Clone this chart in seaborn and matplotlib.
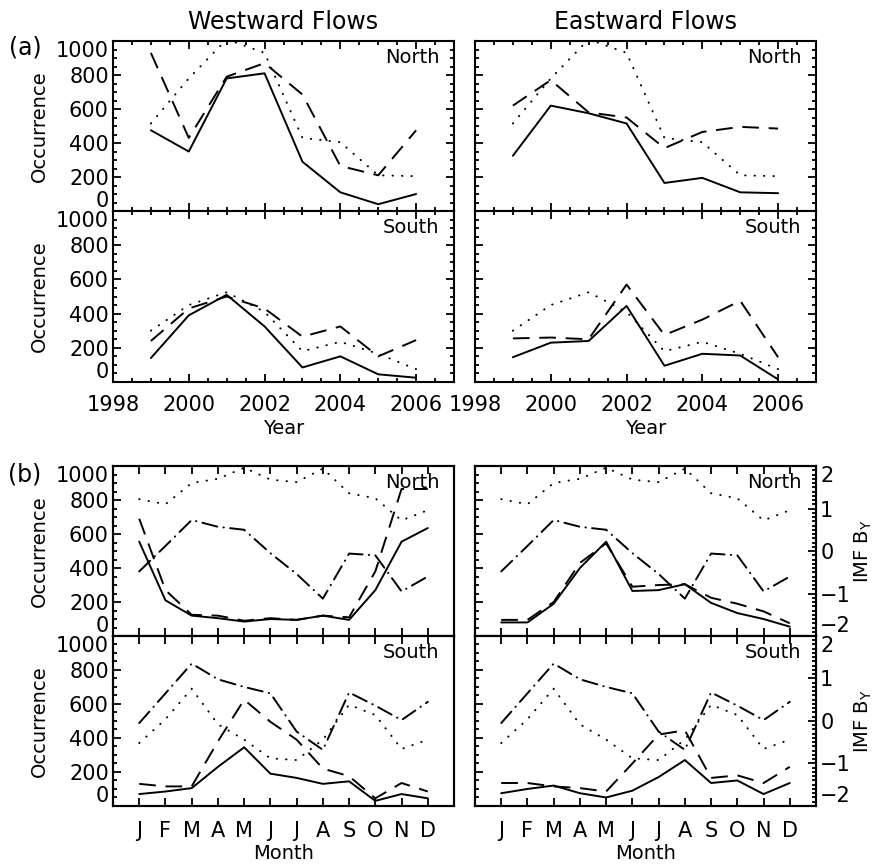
"""
Seasonal / solar-cycle occurrence of westward and eastward flows,
redrawn as a 2x2 + 2x2 panel figure.
"""

import numpy as np
import pandas as pd
import matplotlib
matplotlib.use("Agg")
import matplotlib.pyplot as plt
import seaborn as sns
from matplotlib.ticker import MultipleLocator, FixedLocator

# ---------------------------------------------------------------- data (a)
YEARS = [1999, 2000, 2001, 2002, 2003, 2004, 2005, 2006]

WEST_N_SOLID  = [475, 350, 780, 810, 290, 110, 40, 100]
WEST_N_DASHED = [930, 430, 790, 870, 685, 265, 210, 475]
EAST_N_SOLID  = [325, 620, 575, 515, 165, 195, 110, 105]
EAST_N_DASHED = [620, 770, 580, 550, 370, 465, 495, 485]
YEAR_N_DOTTED = [515, 780, 1010, 930, 430, 405, 210, 205]

WEST_S_SOLID  = [140, 390, 510, 325, 85, 150, 45, 25]
WEST_S_DASHED = [240, 430, 500, 430, 265, 325, 150, 245]
EAST_S_SOLID  = [145, 230, 240, 445, 95, 165, 155, 15]
EAST_S_DASHED = [255, 260, 250, 570, 275, 365, 475, 145]
YEAR_S_DOTTED = [300, 450, 525, 410, 180, 235, 165, 75]

# ---------------------------------------------------------------- data (b)
MONTHS = [1, 2, 3, 4, 5, 6, 7, 8, 9, 10, 11, 12]
MONTH_LABELS = ["J", "F", "M", "A", "M", "J", "J", "A", "S", "O", "N", "D"]

M_WEST_N_SOLID  = [555, 210, 120, 105, 85, 100, 95, 120, 95, 270, 555, 635]
M_WEST_N_DASHED = [690, 270, 125, 120, 90, 105, 95, 120, 110, 380, 865, 865]
M_EAST_N_SOLID  = [80, 80, 190, 400, 555, 265, 270, 305, 195, 135, 100, 55]
M_EAST_N_DASHED = [95, 95, 200, 430, 545, 290, 300, 305, 225, 190, 145, 75]
M_N_DOTTED      = [805, 775, 900, 925, 990, 920, 905, 985, 840, 810, 680, 740]
BY_N            = [-0.48, 0.12, 0.73, 0.57, 0.50, -0.05, -0.54, -1.12,
                   -0.06, -0.10, -0.95, -0.60]

M_WEST_S_SOLID  = [70, 85, 105, 230, 345, 190, 165, 130, 145, 30, 70, 45]
M_WEST_S_DASHED = [130, 115, 115, 380, 625, 495, 390, 220, 175, 45, 135, 85]
M_EAST_S_SOLID  = [75, 100, 120, 75, 50, 90, 170, 270, 135, 150, 70, 135]
M_EAST_S_DASHED = [135, 135, 115, 105, 85, 250, 420, 445, 165, 180, 135, 230]
M_S_DOTTED      = [370, 510, 690, 480, 390, 280, 270, 390, 595, 535, 335, 390]
BY_S            = [-0.05, 0.65, 1.35, 0.98, 0.80, 0.65, -0.25, -0.68,
                   0.67, 0.36, 0.02, 0.45]

# ---------------------------------------------------------------- style
sns.set_style("ticks")
plt.rcParams["font.family"] = ["DejaVu Sans"]
plt.rcParams["lines.scale_dashes"] = False
plt.rcParams["axes.linewidth"] = 1.5
for key in ["text.color", "axes.labelcolor", "xtick.color", "ytick.color",
            "axes.edgecolor"]:
    plt.rcParams[key] = "black"

FS = 14      # axis labels, North/South
TFS = 15     # tick labels
DASHES = {
    "solid":   None,
    "dashed":  (12, 7),
    "dotted":  (0.3, 6.5),
    "dashdot": (11, 4.5, 0.3, 4.5),
}

COL_X = [0.1287, 0.541]
COL_W = 0.3884
ROW_Y = {"aN": (0.7566, 0.1961), "aS": (0.5594, 0.1972),
         "bN": (0.2664, 0.1961), "bS": (0.0704, 0.1961)}


def draw(ax, x, y, kind):
    sns.lineplot(x=x, y=y, ax=ax, color="black", linewidth=1.4,
                 estimator=None, sort=False, legend=False)
    line = ax.lines[-1]
    if DASHES[kind] is None:
        line.set_linestyle("-")
    else:
        line.set_dashes(DASHES[kind])
        line.set_dash_capstyle("round" if kind != "dashed" else "butt")


def style_ticks(ax, right=True):
    ax.tick_params(which="both", direction="in", top=True, right=right,
                   labelsize=TFS, width=1.3)
    ax.tick_params(which="major", length=6)
    ax.tick_params(which="minor", length=3)
    ax.tick_params(axis="y", pad=3)


def occ_axis(ax, labels=True):
    ax.set_ylim(0, 1000)
    ax.yaxis.set_major_locator(FixedLocator([0, 200, 400, 600, 800, 1000]))
    ax.yaxis.set_minor_locator(MultipleLocator(50))
    if labels:
        ax.set_ylabel("Occurrence", fontsize=FS, labelpad=5)
        ax.set_yticklabels(["0", "200", "400", "600", "800", "1000"])
        ticks = ax.yaxis.get_major_ticks()
        ticks[0].label1.set_verticalalignment("bottom")
        ticks[-1].label1.set_verticalalignment("top")
    else:
        ax.set_yticklabels([])
        ax.set_ylabel("")


def year_axis(ax, labels):
    ax.set_xlim(1998, 2007)
    ax.xaxis.set_major_locator(FixedLocator([1998, 2000, 2002, 2004, 2006]))
    ax.xaxis.set_minor_locator(MultipleLocator(0.5))
    ax.tick_params(axis="x", pad=9)
    if labels:
        ax.set_xticklabels(["1998", "2000", "2002", "2004", "2006"])
        ax.set_xlabel("Year", fontsize=FS, labelpad=3)
    else:
        ax.set_xticklabels([])
        ax.set_xlabel("")


def month_axis(ax, labels):
    ax.set_xlim(0, 13)
    ax.xaxis.set_major_locator(FixedLocator(MONTHS))
    ax.tick_params(axis="x", pad=11)
    if labels:
        ax.set_xticklabels(MONTH_LABELS)
        ax.set_xlabel("Month", fontsize=FS, labelpad=2)
    else:
        ax.set_xticklabels([])
        ax.set_xlabel("")


fig = plt.figure(figsize=(8.78, 8.67), dpi=100)

# ---------------------------------------------------------------- panel (a)
year_sets = {
    ("aN", 0): (WEST_N_SOLID, WEST_N_DASHED, YEAR_N_DOTTED, "North"),
    ("aN", 1): (EAST_N_SOLID, EAST_N_DASHED, YEAR_N_DOTTED, "North"),
    ("aS", 0): (WEST_S_SOLID, WEST_S_DASHED, YEAR_S_DOTTED, "South"),
    ("aS", 1): (EAST_S_SOLID, EAST_S_DASHED, YEAR_S_DOTTED, "South"),
}
for (row, col), (solid, dashed, dotted, hemi) in year_sets.items():
    y0, h = ROW_Y[row]
    ax = fig.add_axes([COL_X[col], y0, COL_W, h])
    draw(ax, YEARS, solid, "solid")
    draw(ax, YEARS, dashed, "dashed")
    draw(ax, YEARS, dotted, "dotted")
    style_ticks(ax)
    occ_axis(ax, labels=(col == 0))
    year_axis(ax, labels=(row == "aS"))
    ax.text(0.958, 0.905, hemi, transform=ax.transAxes, ha="right",
            va="center", fontsize=FS)

# ---------------------------------------------------------------- panel (b)
month_sets = {
    ("bN", 0): (M_WEST_N_SOLID, M_WEST_N_DASHED, M_N_DOTTED, BY_N, "North"),
    ("bN", 1): (M_EAST_N_SOLID, M_EAST_N_DASHED, M_N_DOTTED, BY_N, "North"),
    ("bS", 0): (M_WEST_S_SOLID, M_WEST_S_DASHED, M_S_DOTTED, BY_S, "South"),
    ("bS", 1): (M_EAST_S_SOLID, M_EAST_S_DASHED, M_S_DOTTED, BY_S, "South"),
}
for (row, col), (solid, dashed, dotted, by, hemi) in month_sets.items():
    y0, h = ROW_Y[row]
    ax = fig.add_axes([COL_X[col], y0, COL_W, h])
    draw(ax, MONTHS, solid, "solid")
    draw(ax, MONTHS, dashed, "dashed")
    draw(ax, MONTHS, dotted, "dotted")
    style_ticks(ax, right=(col == 0))
    occ_axis(ax, labels=(col == 0))
    month_axis(ax, labels=(row == "bS"))
    ax.text(0.958, 0.905, hemi, transform=ax.transAxes, ha="right",
            va="center", fontsize=FS)

    # IMF By on its own scale (right axis shown only for eastward column)
    tw = ax.twinx()
    draw(tw, MONTHS, by, "dashdot")
    tw.set_ylim(-2, 2)
    tw.set_xlim(0, 13)
    if col == 1:
        tw.yaxis.set_major_locator(FixedLocator([-2, -1, 0, 1, 2]))
        tw.yaxis.set_minor_locator(MultipleLocator(0.1))
        tw.tick_params(which="both", direction="in", right=True,
                       labelright=True, labelsize=TFS, width=1.3, pad=3)
        tw.tick_params(which="major", length=6)
        tw.tick_params(which="minor", length=3)
        tw.set_yticklabels(["\u22122", "\u22121", "0", "1", "2"])
        tt = tw.yaxis.get_major_ticks()
        tt[0].label2.set_verticalalignment("bottom")
        tt[-1].label2.set_verticalalignment("top")
        tw.set_ylabel("IMF B$_\\mathregular{Y}$", fontsize=FS, labelpad=1)
    else:
        tw.set_yticks([])
        tw.tick_params(which="both", right=False, labelright=False)
        tw.set_ylabel("")

# ---------------------------------------------------------------- labels
fig.text(COL_X[0] + COL_W / 2, 1 - 22 / 867, "Westward Flows",
         ha="center", va="center", fontsize=17)
fig.text(COL_X[1] + COL_W / 2, 1 - 22 / 867, "Eastward Flows",
         ha="center", va="center", fontsize=17)
fig.text(25 / 878, 1 - 47 / 867, "(a)", ha="center", va="center",
         fontsize=17)
fig.text(25 / 878, 1 - 474 / 867, "(b)", ha="center", va="center",
         fontsize=17)

fig.savefig("out.png", dpi=100, facecolor="white")
plt.close(fig)
